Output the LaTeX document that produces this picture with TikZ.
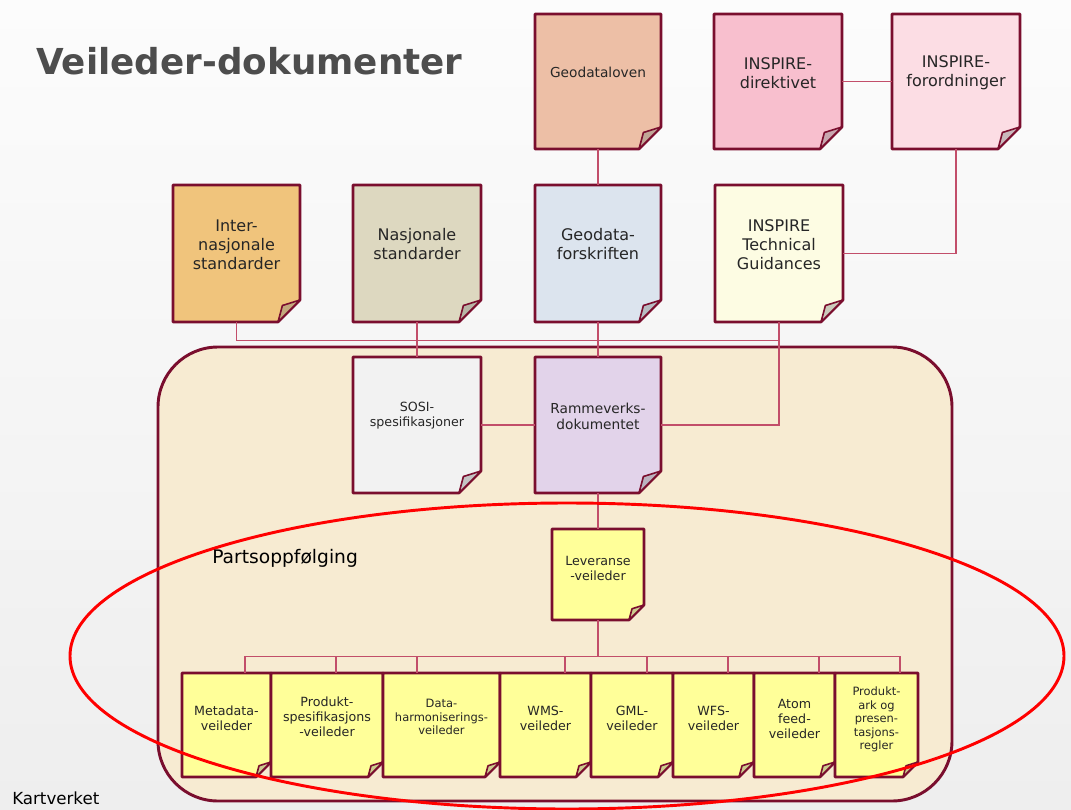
\documentclass[tikz,border=0pt]{standalone}
\usepackage{fontspec}
\setmainfont{DejaVu Sans}
\usetikzlibrary{calc,fit}

\definecolor{docrim}{HTML}{7A0E2E}
\definecolor{linkred}{HTML}{C24E6A}
\definecolor{lovfill}{HTML}{EDBFA6}
\definecolor{dirfill}{HTML}{F8BFCE}
\definecolor{forofill}{HTML}{FCDDE4}
\definecolor{intfill}{HTML}{F0C47C}
\definecolor{nasjfill}{HTML}{DDD8C0}
\definecolor{forskrfill}{HTML}{DCE4EE}
\definecolor{tgfill}{HTML}{FDFCE3}
\definecolor{sosifill}{HTML}{F2F2F2}
\definecolor{rammefill}{HTML}{E2D3EA}
\definecolor{vfill}{HTML}{FFFF99}
\definecolor{framefill}{HTML}{F7EBD2}
\definecolor{titlegray}{HTML}{4D4D4D}
\definecolor{bgtop}{HTML}{FCFCFC}
\definecolor{bgbottom}{HTML}{EEEEEE}

% document page with folded corner: name, north west, south east, fill, fold size
\newcommand{\docpage}[5]{%
  \coordinate (#1-nw) at (#2);
  \coordinate (#1-se) at (#3);
  \filldraw[docline, fill=#4] (#1-nw |- #1-se) -- (#1-nw) -| ($(#1-se)+(0,-#5)$) -- ($(#1-se)+(-#5,0)$) -- cycle;
  \filldraw[foldline, fill=#4!60!gray] ($(#1-se)+(0,-#5)$) -- ($(#1-se)+(-#5,0)$) -- ($(#1-se)+(-0.8*#5,-0.75*#5)$) -- cycle;
  \node[fit={(#1-nw)(#1-se)}, inner sep=0pt] (#1) {};
}

\begin{document}
\begin{tikzpicture}[x=0.75pt,y=0.75pt,yscale=-1,
  docline/.style={draw=docrim, line width=2pt, line join=round},
  foldline/.style={draw=docrim, line width=1.2pt, line join=round},
  link/.style={draw=linkred, line width=0.9pt},
  ring/.style={draw=red, line width=2.2pt},
  doctext/.style={align=center, inner sep=0pt, text=black!85},
  bigtext/.style={doctext, font=\fontsize{12}{14.25}\selectfont},
  midtext/.style={doctext, font=\fontsize{10.3}{12}\selectfont},
  smalltext/.style={doctext, font=\fontsize{9.5}{11.4}\selectfont},
  tinytext/.style={doctext, font=\fontsize{8.6}{10.1}\selectfont}]
\useasboundingbox (0,0) rectangle (1071,810);

%Shape: Background
\shade[top color=bgtop, bottom color=bgbottom] (0,0) rectangle (1071,810);

%Shape: Rounded Rect
\draw[draw=docrim, line width=2.2pt, fill=framefill, rounded corners=45pt] (158,347) rectangle (952,801);

%Shape: Documents
\docpage{lov}{535,14}{661,149}{lovfill}{22}
\docpage{dir}{714,14}{842,149}{dirfill}{22}
\docpage{foro}{892,14}{1020,149}{forofill}{22}
\docpage{inter}{173,185}{300,322}{intfill}{22}
\docpage{nasj}{353,185}{481,322}{nasjfill}{22}
\docpage{forskr}{535,185}{661,322}{forskrfill}{22}
\docpage{tg}{715,185}{843,322}{tgfill}{22}
\docpage{sosi}{353,357}{481,493}{sosifill}{22}
\docpage{ramme}{535,357}{661,493}{rammefill}{22}
\docpage{lev}{552,529}{644,620}{vfill}{15}
\docpage{m1}{182,673}{271,777}{vfill}{15}
\docpage{m2}{271,673}{383,777}{vfill}{15}
\docpage{m3}{383,673}{500,777}{vfill}{15}
\docpage{m4}{500,673}{591,777}{vfill}{15}
\docpage{m5}{591,673}{673,777}{vfill}{15}
\docpage{m6}{673,673}{754,777}{vfill}{15}
\docpage{m7}{754,673}{835,777}{vfill}{15}
\docpage{m8}{835,673}{918,777}{vfill}{15}

%Straight Lines
\draw[link] (lov.south) -- (forskr.north);
\draw[link] (dir.east) -- (foro.west);
\draw[link] (foro.south) |- (tg.east);
\draw[link] (inter.south) -- ++(0,18) coordinate (topbus) -| (tg.south);
\draw[link] (nasj.south) -- (sosi.north);
\draw[link] (forskr.south) -- (ramme.north);
\draw[link] (tg.south) |- (ramme.east);
\draw[link] (sosi.east) -- (ramme.west);
\draw[link] (ramme.south) -- (lev.north);
\draw[link] (lev.south) -- ++(0,36) coordinate (bus);
\draw[link] ($(m1.north)+(18.5,0)$) |- (bus);
\draw[link] ($(m2.north)+(9,0)$) |- (bus);
\draw[link] ($(m3.north)+(-24.5,0)$) |- (bus);
\draw[link] ($(m4.north)+(19.5,0)$) |- (bus);
\draw[link] ($(m5.north)+(15,0)$) |- (bus);
\draw[link] ($(m6.north)+(14.5,0)$) |- (bus);
\draw[link] ($(m7.north)+(24.5,0)$) |- (bus);
\draw[link] ($(m8.north)+(23.5,0)$) |- (bus);

%Shape: Ellipse
\draw[ring] (567,656) ellipse [x radius=497, y radius=153];

% Text Node
\node[anchor=base west, inner sep=0pt, text=titlegray, font=\bfseries\fontsize{26.8}{30}\selectfont] (title) at (36,74) {Veileder-dokumenter};
% Text Node
\node[midtext] (lov-t) at ($(lov.center)+(0,-9)$) {Geodataloven};
% Text Node
\node[bigtext] (dir-t) at ($(dir.center)+(0,-8.5)$) {INSPIRE-\\direktivet};
% Text Node
\node[bigtext] (foro-t) at ($(foro.center)+(0,-8.5)$) {INSPIRE-\\forordninger};
% Text Node
\node[bigtext] (inter-t) at ($(inter.center)+(0,-9)$) {Inter-\\nasjonale\\standarder};
% Text Node
\node[bigtext] (nasj-t) at ($(nasj.center)+(0,-9.5)$) {Nasjonale\\standarder};
% Text Node
\node[bigtext] (forskr-t) at ($(forskr.center)+(0,-9.5)$) {Geodata-\\forskriften};
% Text Node
\node[bigtext] (tg-t) at ($(tg.center)+(0,-9)$) {INSPIRE\\Technical\\Guidances};
% Text Node
\node[smalltext] (sosi-t) at ($(sosi.center)+(0,-9.5)$) {SOSI-\\spesifikasjoner};
% Text Node
\node[midtext] (ramme-t) at ($(ramme.center)+(0,-9)$) {Rammeverks-\\dokumentet};
% Text Node
\node[smalltext] (lev-t) at ($(lev.center)+(0,-6)$) {Leveranse\\-veileder};
% Text Node
\node[anchor=base west, inner sep=0pt, font=\fontsize{14}{16}\selectfont] (parts) at (212,563) {Partsoppfølging};
% Text Node
\node[smalltext] (m1-t) at ($(m1.center)+(0,-6.5)$) {Metadata-\\veileder};
% Text Node
\node[smalltext] (m2-t) at ($(m2.center)+(0,-8)$) {Produkt-\\spesifikasjons\\-veileder};
% Text Node
\node[tinytext] (m3-t) at ($(m3.center)+(0,-8)$) {Data-\\harmoniserings-\\veileder};
% Text Node
\node[smalltext] (m4-t) at ($(m4.center)+(0,-6.5)$) {WMS-\\veileder};
% Text Node
\node[smalltext] (m5-t) at ($(m5.center)+(0,-6.5)$) {GML-\\veileder};
% Text Node
\node[smalltext] (m6-t) at ($(m6.center)+(0,-6.5)$) {WFS-\\veileder};
% Text Node
\node[smalltext] (m7-t) at ($(m7.center)+(0,-6)$) {Atom\\feed-\\veileder};
% Text Node
\node[tinytext] (m8-t) at ($(m8.center)+(0,-5.5)$) {Produkt-\\ark og\\presen-\\tasjons-\\regler};
% Text Node
\node[anchor=base west, inner sep=0pt, font=\fontsize{12.5}{14}\selectfont] (kart) at (12,804) {Kartverket};

\end{tikzpicture}
\end{document}
